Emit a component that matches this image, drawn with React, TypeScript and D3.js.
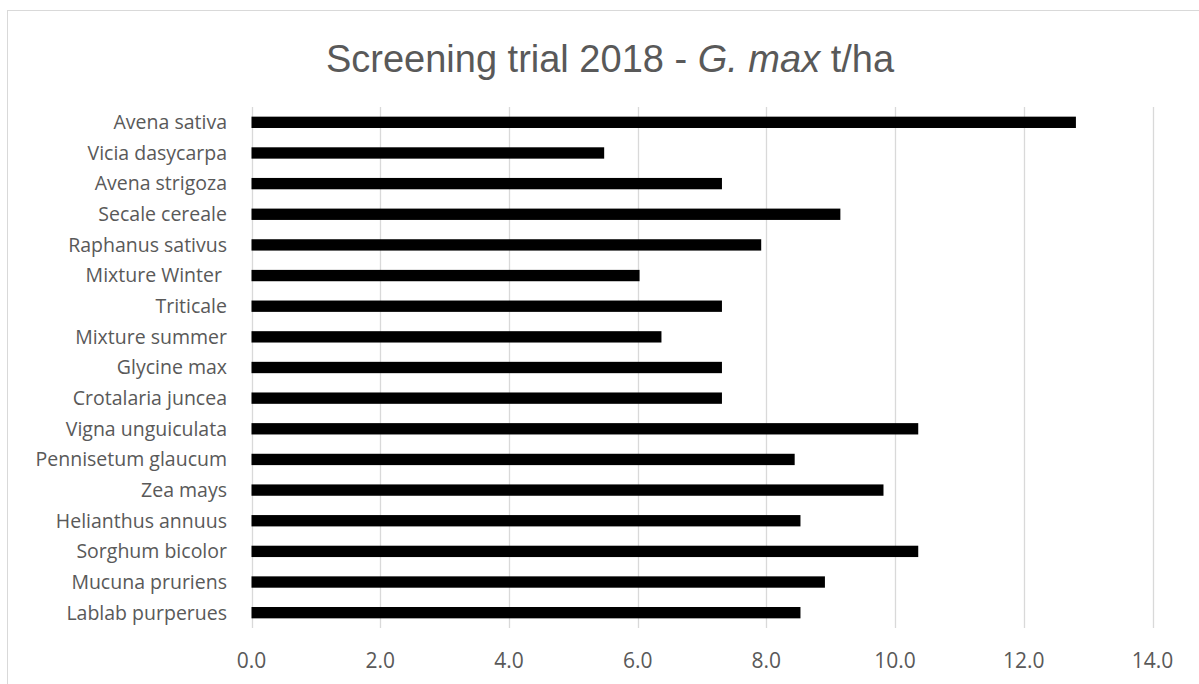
import React from "react";
import * as d3 from "d3";

const categories = [
  "Avena sativa",
  "Vicia dasycarpa",
  "Avena strigoza",
  "Secale cereale",
  "Raphanus sativus",
  "Mixture Winter ",
  "Triticale",
  "Mixture summer",
  "Glycine max",
  "Crotalaria juncea",
  "Vigna unguiculata",
  "Pennisetum glaucum",
  "Zea mays",
  "Helianthus annuus",
  "Sorghum bicolor",
  "Mucuna pruriens",
  "Lablab purperues",
];

const values = [12.81, 5.48, 7.31, 9.15, 7.92, 6.03, 7.31, 6.37, 7.31, 7.31, 10.36, 8.44, 9.82, 8.53, 10.36, 8.91, 8.53];

const xTicks = [0, 2, 4, 6, 8, 10, 12, 14];

const W = 1199;
const H = 684;
const plot = { left: 251.5, right: 1152.5, top: 107, bottom: 628 };

export default function App() {
  const x = d3.scaleLinear().domain([0, 14]).range([plot.left, plot.right]);
  const y = d3
    .scaleBand<string>()
    .domain(categories)
    .range([plot.top, plot.bottom])
    .paddingInner(0.63)
    .paddingOuter(0.315);
  const labelFont = "'Open Sans', sans-serif";
  return (
    <svg
      width={W}
      height={H}
      style={{ position: "absolute", left: 0, top: 0, background: "#fff" }}
    >
      <rect x={7.5} y={10.5} width={1210} height={700} fill="#fff" stroke="#d9d9d9" strokeWidth={1} />
      <text
        x={610}
        y={72}
        textAnchor="middle"
        fill="#595959"
        fontFamily="'Liberation Sans', Arial, sans-serif"
        fontSize={38}
      >
        Screening trial 2018 - <tspan fontStyle="italic">G. max</tspan> t/ha
      </text>
      {xTicks.map((t) => (
        <line
          key={"g" + t}
          x1={Math.round(x(t)) + 0.5}
          x2={Math.round(x(t)) + 0.5}
          y1={plot.top}
          y2={plot.bottom}
          stroke="#d9d9d9"
          strokeWidth={1.3}
        />
      ))}
      {categories.map((c, i) => (
        <rect
          key={"b" + c}
          x={x(0)}
          y={y(c)!}
          width={x(values[i]) - x(0)}
          height={y.bandwidth()}
          fill="#000"
        />
      ))}
      {categories.map((c) => (
        <text
          key={"l" + c}
          x={227}
          y={y(c)! + y.bandwidth() / 2}
          dy="0.35em"
          textAnchor="end"
          fill="#595959"
          fontFamily={labelFont}
          fontSize={19.5}
          style={{ whiteSpace: "pre" }}
        >
          {c}
        </text>
      ))}
      {xTicks.map((t) => (
        <text
          key={"t" + t}
          x={x(t)}
          y={661}
          dy="0.35em"
          textAnchor="middle"
          fill="#595959"
          fontFamily={labelFont}
          fontSize={21}
        >
          {d3.format(".1f")(t)}
        </text>
      ))}
    </svg>
  );
}
